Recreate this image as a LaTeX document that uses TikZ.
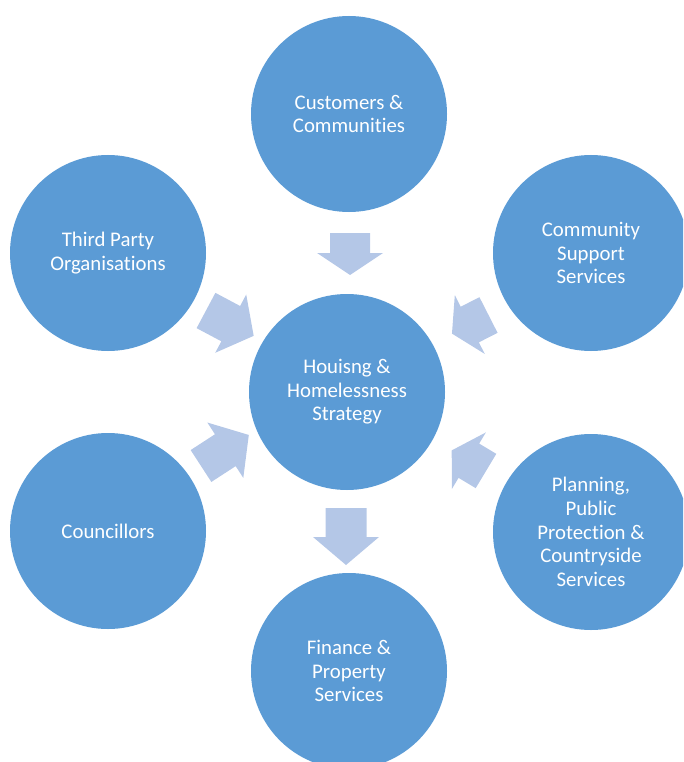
\documentclass[tikz,border=0pt]{standalone}
\usepackage{fontspec}
\setmainfont{Carlito}[Ligatures={NoCommon}]
\definecolor{circblue}{HTML}{5B9BD5}
\definecolor{arrblue}{HTML}{B4C7E7}
\tikzset{
  bubble/.style={circle, fill=circblue, minimum size=196pt, inner sep=0pt, text=white, align=center,
    font=\fontsize{20.8}{23.6}\selectfont},
}
\newcommand{\blockarr}[7]{% tailx,taily,rot,L,h,w,H
  \begin{scope}[shift={(#1,#2)}, rotate=#3]
    \fill[arrblue] (0,-#6) -- (#4-#5,-#6) -- (#4-#5,-#7) -- (#4,0) -- (#4-#5,#7) -- (#4-#5,#6) -- (0,#6) -- cycle;
  \end{scope}}
\begin{document}
\begin{tikzpicture}[x=1pt,y=-1pt]
\useasboundingbox (0,0) rectangle (683,762);
\clip (0,0) rectangle (683,762);
\node[bubble] (cust) at (349,114) {Customers \&\\Communities};
\node[bubble] (comm) at (591,253) {Community\\Support\\Services};
\node[bubble] (plan) at (591,532) {Planning,\\Public\\Protection \&\\Countryside\\Services};
\node[bubble] (fin) at (349,671) {Finance \&\\Property\\Services};
\node[bubble] (coun) at (108,531) {Councillors};
\node[bubble] (third) at (108,253) {Third Party\\Organisations};
\node[bubble] (hous) at (347,392) {Houisng \&\\Homelessness\\Strategy};
% block arrows
\blockarr{350}{233}{-90}{42}{22}{20}{33}
\blockarr{346}{508}{-90}{57}{28}{20.5}{33}
\blockarr{206}{310.5}{-28}{54}{26}{20}{33}
\blockarr{488.5}{315}{-153}{41}{20}{20}{33}
\blockarr{201}{466}{33}{57}{28}{19}{33}
\blockarr{486}{471}{149}{40}{20}{20}{33}
\end{tikzpicture}
\end{document}
